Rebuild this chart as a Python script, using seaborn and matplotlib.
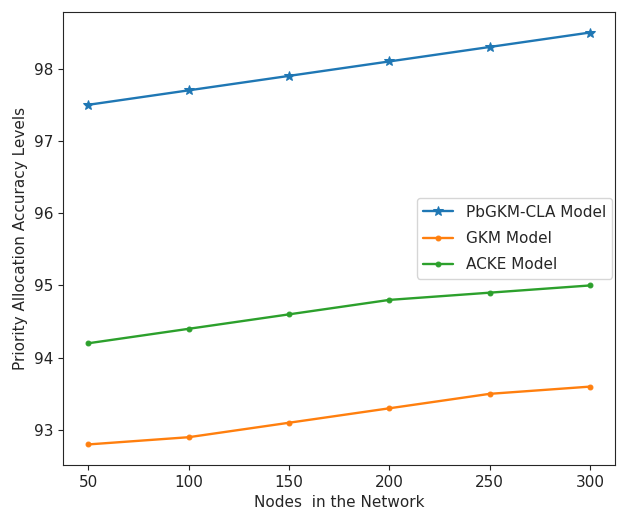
import pandas as pd
import seaborn as sns
import matplotlib.pyplot as plt

# ---------------- Data ---------------- #
nodes = [50, 100, 150, 200, 250, 300]
pbgkm_cla = [97.5, 97.7, 97.9, 98.1, 98.3, 98.5]
gkm = [92.8, 92.9, 93.1, 93.3, 93.5, 93.6]
acke = [94.2, 94.4, 94.6, 94.8, 94.9, 95.0]

series_names = ["PbGKM-CLA Model", "GKM Model", "ACKE Model"]
series_markers = ["*", ".", "."]

df = pd.DataFrame({
    "Nodes": nodes * len(series_names),
    "Accuracy": pbgkm_cla + gkm + acke,
    "Model": [n for n in series_names for _ in nodes],
})

# ---------------- Plot ---------------- #
sns.set_style("ticks")
plt.rcParams['font.family'] = ['DejaVu Sans']

fig = plt.figure(figsize=(6.2, 5.19), dpi=100)
ax = fig.add_axes([0.102, 0.104, 0.890, 0.873])

palette = ["#1f77b4", "#ff7f0e", "#2ca02c"]
for name, marker, color in zip(series_names, series_markers, palette):
    sub = df[df["Model"] == name]
    sns.lineplot(data=sub, x="Nodes", y="Accuracy", ax=ax, color=color,
                 marker=marker, markersize=7 if marker == "*" else 7,
                 markeredgecolor=color, linewidth=1.7, label=name)

ax.set_xticks(nodes)
ax.set_yticks([93, 94, 95, 96, 97, 98])
ax.tick_params(labelsize=11, colors="#222222")
ax.set_xlabel("Nodes  in the Network", fontsize=11)
ax.set_ylabel("Priority Allocation Accuracy Levels", fontsize=11)
ax.legend(loc="center right", fontsize=11, labelspacing=0.75,
          bbox_to_anchor=(1.0, 0.5), borderaxespad=0.2)

plt.savefig("out.png", dpi=100)
plt.close()
